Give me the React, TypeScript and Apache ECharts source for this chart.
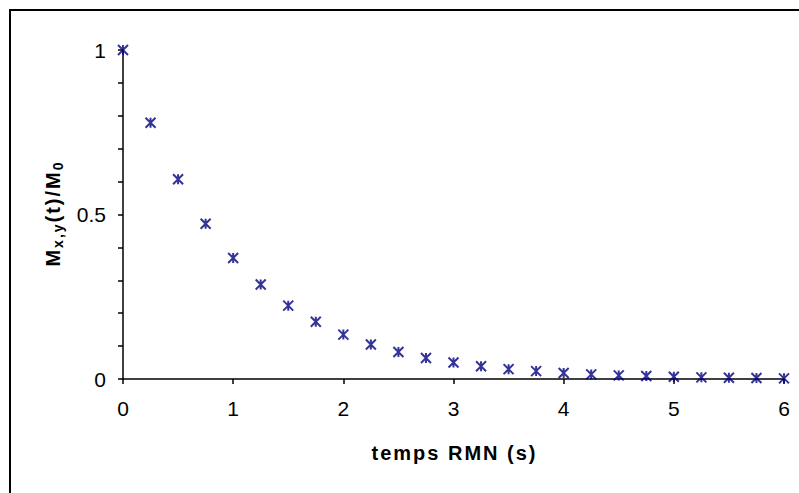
import React, { useEffect, useRef } from "react";
import * as echarts from "echarts";

const times = [0, 0.25, 0.5, 0.75, 1, 1.25, 1.5, 1.75, 2, 2.25, 2.5, 2.75, 3, 3.25, 3.5, 3.75, 4, 4.25, 4.5, 4.75, 5, 5.25, 5.5, 5.75, 6];
const magnetization = [1, 0.779, 0.607, 0.472, 0.368, 0.287, 0.223, 0.174, 0.135, 0.105, 0.082, 0.064, 0.05, 0.039, 0.03, 0.024, 0.018, 0.014, 0.011, 0.009, 0.007, 0.005, 0.004, 0.003, 0.002];
const xTitle = "temps RMN (s)";

const asterisk = "path://M0,0 L10,10 M10,0 L0,10 M5,0 L5,10";
const FONT = "Liberation Sans, Arial";

const spaced = (s: string, style: string) =>
  s
    .split("")
    .map((c) => `{${style}|${c}}`)
    .join("");

export default function App() {
  const ref = useRef<HTMLDivElement>(null);
  useEffect(() => {
    if (!ref.current) return;
    const chart = echarts.init(ref.current, undefined, { renderer: "svg" });
    const data = times.map((t, i) => [t, magnetization[i]]);
    const yName = spaced("M", "b") + spaced("x,y", "s") + spaced("(t)/M", "b") + spaced("0", "s");
    chart.setOption({
      animation: false,
      grid: { left: 123, top: 50, right: 15, bottom: 114 },
      graphic: [
        {
          type: "rect",
          shape: { x: 10, y: 10, width: 800, height: 500 },
          style: { fill: "none", stroke: "#000", lineWidth: 2 },
        },
      ],
      xAxis: {
        type: "value",
        min: 0,
        max: 6,
        interval: 1,
        name: spaced(xTitle, "c"),
        nameLocation: "middle",
        nameGap: 64,
        nameTextStyle: {
          fontFamily: FONT,
          fontWeight: "bold",
          fontSize: 20,
          color: "#000",
          rich: {
            c: { fontFamily: FONT, fontWeight: "bold", fontSize: 20, color: "#000", padding: [0, 1, 0, 1] },
          },
        },
        axisLine: { show: true, onZero: false, lineStyle: { color: "#000", width: 1.5 } },
        axisTick: { show: true, inside: false, length: 5, lineStyle: { color: "#000", width: 1.5 } },
        axisLabel: { fontFamily: FONT, fontSize: 21, color: "#000", margin: 19 },
        splitLine: { show: false },
      },
      yAxis: {
        type: "value",
        min: 0,
        max: 1,
        interval: 0.1,
        name: yName,
        nameLocation: "middle",
        nameGap: 58,
        nameTextStyle: {
          fontFamily: FONT,
          fontWeight: "bold",
          fontSize: 20,
          color: "#000",
          rich: {
            b: { fontFamily: FONT, fontWeight: "bold", fontSize: 20, lineHeight: 24, color: "#000", padding: [0, 1, 0, 1] },
            s: { fontFamily: FONT, fontWeight: "bold", fontSize: 14, lineHeight: 24, verticalAlign: "bottom", color: "#000", padding: [0, 1, 0, 1] },
          },
        },
        axisLine: { show: true, onZero: false, lineStyle: { color: "#000", width: 1.5 } },
        axisTick: { show: true, inside: false, length: 5, lineStyle: { color: "#000", width: 1.5 } },
        axisLabel: {
          fontFamily: FONT,
          fontSize: 21,
          color: "#000",
          margin: 17,
          formatter: (v: number) => (Math.abs(v * 2 - Math.round(v * 2)) < 1e-6 ? String(Math.round(v * 2) / 2) : ""),
        },
        splitLine: { show: false },
      },
      series: [
        {
          type: "scatter",
          data,
          symbol: asterisk,
          symbolSize: 10,
          itemStyle: { color: "none", borderColor: "#000080", borderWidth: 2 },
        },
      ],
    });
    return () => chart.dispose();
  }, []);
  return <div ref={ref} style={{ width: 799, height: 493, position: "absolute", left: 0, top: 0 }} />;
}
